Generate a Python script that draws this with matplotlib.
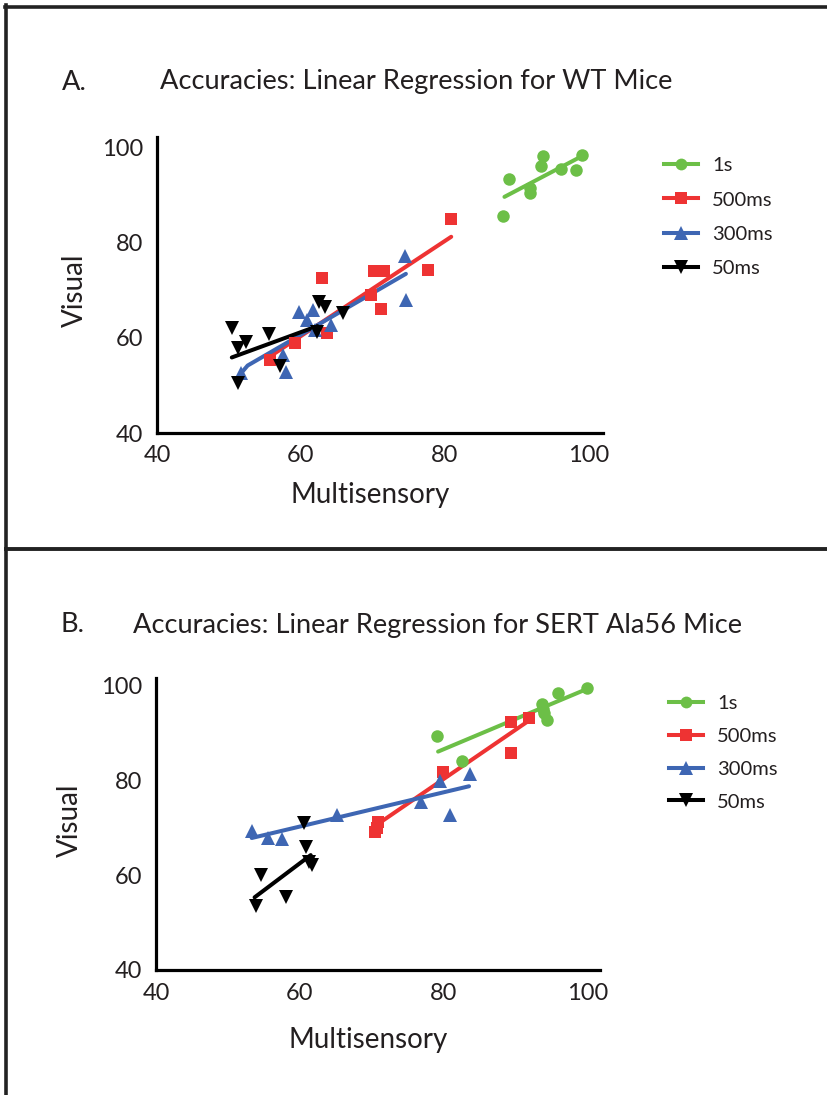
import matplotlib
matplotlib.use("Agg")
import matplotlib.pyplot as plt
from matplotlib.lines import Line2D
import numpy as np

plt.rcParams['font.family'] = ['Lato', 'DejaVu Sans']

W, H = 827, 1095
DPI = 100

# ---------------- data ----------------
series_names = ["1s", "500ms", "300ms", "50ms"]
series_colors = ["#6cbf47", "#ee3333", "#3e66b3", "#000000"]
series_markers = ["o", "s", "^", "v"]

# Panel A: WT mice
a_1s_x = [88.1, 88.9, 93.6, 93.4, 91.9, 91.9, 96.1, 98.2, 99.1]
a_1s_y = [85.7, 93.4, 98.2, 96.3, 91.5, 90.5, 95.6, 95.4, 98.5]
a_500_x = [55.7, 59.2, 63.0, 63.6, 70.1, 71.5, 69.7, 71.1, 77.7, 80.9]
a_500_y = [55.4, 58.9, 72.6, 61.0, 74.0, 74.2, 69.1, 66.0, 74.3, 85.0]
a_300_x = [51.7, 57.5, 57.9, 59.8, 61.7, 60.9, 61.9, 64.2, 74.5, 74.6]
a_300_y = [52.6, 56.4, 52.9, 65.5, 65.9, 63.8, 61.7, 62.7, 77.3, 67.9]
a_50_x = [50.4, 51.2, 52.4, 55.5, 57.1, 51.3, 62.5, 63.4, 65.8, 62.3]
a_50_y = [62.0, 57.8, 59.2, 60.8, 54.0, 50.5, 67.6, 66.6, 65.3, 61.3]
# fitted regression lines (endpoints)
a_fit_1s = ([88.3, 99.1], [89.7, 98.3])
a_fit_500 = ([55.7, 80.9], [56.1, 81.3])
a_fit_300 = ([51.7, 52.6, 74.6], [52.6, 54.2, 73.5])
a_fit_50 = ([50.4, 62.3], [55.9, 62.5])

# Panel B: SERT Ala56 mice
b_1s_x = [79.0, 82.5, 93.6, 93.8, 93.9, 94.4, 95.9, 99.9]
b_1s_y = [89.3, 84.1, 96.0, 94.9, 94.1, 92.7, 98.3, 99.3]
b_500_x = [70.5, 70.7, 70.9, 79.9, 89.3, 91.8, 89.3]
b_500_y = [69.0, 70.0, 71.2, 81.6, 92.3, 93.0, 85.7]
b_300_x = [53.4, 55.6, 57.5, 65.2, 76.8, 79.5, 83.7, 80.9]
b_300_y = [69.2, 67.9, 67.6, 72.6, 75.4, 79.9, 81.3, 72.6]
b_50_x = [60.5, 60.8, 61.2, 61.7, 54.6, 58.1, 53.9]
b_50_y = [70.9, 66.0, 62.7, 62.1, 60.0, 55.4, 53.5]
b_fit_1s = ([79.2, 99.9], [86.0, 99.2])
b_fit_500 = ([70.5, 91.8], [70.4, 92.5])
b_fit_300 = ([53.3, 83.5], [67.8, 78.7])
b_fit_50 = ([53.7, 61.5], [55.3, 64.2])

ticks = [40, 60, 80, 100]
tick_labels = ["40", "60", "80", "100"]

# ---------------- figure ----------------
fig = plt.figure(figsize=(W / DPI, H / DPI), dpi=DPI)


def rect(l, t, r, b):
    return [l / W, 1 - b / H, (r - l) / W, (b - t) / H]


MS = {"o": 9.0, "s": 8.6, "^": 10.0, "v": 10.0}


def panel(axrect, xlim, ylim, pts, fits, ylab_xy, xlab_xy, leg_xy, spacing):
    ax = fig.add_axes(axrect)
    for (x, y), (fx, fy), c, m in zip(pts, fits, series_colors, series_markers):
        ax.plot(fx, fy, color=c, lw=2.9, solid_capstyle='round', zorder=2)
        ax.plot(x, y, ls='none', marker=m, color=c, markersize=MS[m],
                markeredgewidth=0, zorder=3, clip_on=False)
    ax.set_xlim(*xlim)
    ax.set_ylim(*ylim)
    ax.set_xticks(ticks, tick_labels)
    ax.set_yticks(ticks, tick_labels)
    ax.tick_params(length=0, labelsize=17, colors='#231f20')
    ax.tick_params(axis='y', pad=10)
    ax.tick_params(axis='x', pad=9)
    for s in ('top', 'right'):
        ax.spines[s].set_visible(False)
    for s in ('left', 'bottom'):
        ax.spines[s].set_linewidth(2.3)
        ax.spines[s].set_color('black')
    ax.set_ylabel("Visual", fontsize=20, color='#231f20', va='center', ha='center')
    ax.set_xlabel("Multisensory", fontsize=20, color='#231f20', va='center', ha='center')
    ax.yaxis.set_label_coords(*ylab_xy, transform=fig.transFigure)
    ax.xaxis.set_label_coords(*xlab_xy, transform=fig.transFigure)
    handles = [Line2D([], [], color=c, lw=2.9, marker=m, markersize=MS[m] - 0.5,
                      markeredgewidth=0)
               for c, m in zip(series_colors, series_markers)]
    ax.legend(handles, series_names, loc='upper left', bbox_to_anchor=leg_xy,
              bbox_transform=fig.transFigure, frameon=False, fontsize=14.5,
              handlelength=1.7, handletextpad=0.7, labelspacing=spacing,
              borderpad=0, borderaxespad=0, labelcolor='#231f20')
    return ax


panel(rect(157, 137, 603, 433), (40, 102), (40, 102.3),
      [(a_1s_x, a_1s_y), (a_500_x, a_500_y), (a_300_x, a_300_y), (a_50_x, a_50_y)],
      [a_fit_1s, a_fit_500, a_fit_300, a_fit_50],
      (75 / W, 1 - 290 / H), (370 / W, 1 - 495 / H), (664 / W, 1 - 157 / H), 0.86)

panel(rect(156, 678, 600, 970), (40, 101.7), (40, 101.5),
      [(b_1s_x, b_1s_y), (b_500_x, b_500_y), (b_300_x, b_300_y), (b_50_x, b_50_y)],
      [b_fit_1s, b_fit_500, b_fit_300, b_fit_50],
      (70 / W, 1 - 820 / H), (368 / W, 1 - 1040 / H), (669 / W, 1 - 695 / H), 0.78)

# panel titles
tc = '#231f20'
fig.text(62 / W, 1 - 82 / H, "A.", fontsize=19.6, color=tc, ha='left', va='center')
fig.text(160 / W, 1 - 82 / H, "Accuracies: Linear Regression for WT Mice", fontsize=19.6,
         color=tc, ha='left', va='center')
fig.text(60 / W, 1 - 625 / H, "B.", fontsize=19.6, color=tc, ha='left', va='center')
fig.text(133 / W, 1 - 625 / H, "Accuracies: Linear Regression for SERT Ala56 Mice",
         fontsize=19.6, color=tc, ha='left', va='center')

# frame lines
fc = '#222222'
fig.add_artist(Line2D([6 / W, 6 / W], [0, 1 - 5 / H], color=fc, lw=2.6,
                      transform=fig.transFigure))
fig.add_artist(Line2D([5 / W, 1], [1 - 7 / H, 1 - 7 / H], color=fc, lw=2.6,
                      transform=fig.transFigure))
fig.add_artist(Line2D([6 / W, 1], [1 - 549 / H, 1 - 549 / H], color=fc, lw=2.8,
                      transform=fig.transFigure))

fig.savefig("out.png", dpi=DPI)
